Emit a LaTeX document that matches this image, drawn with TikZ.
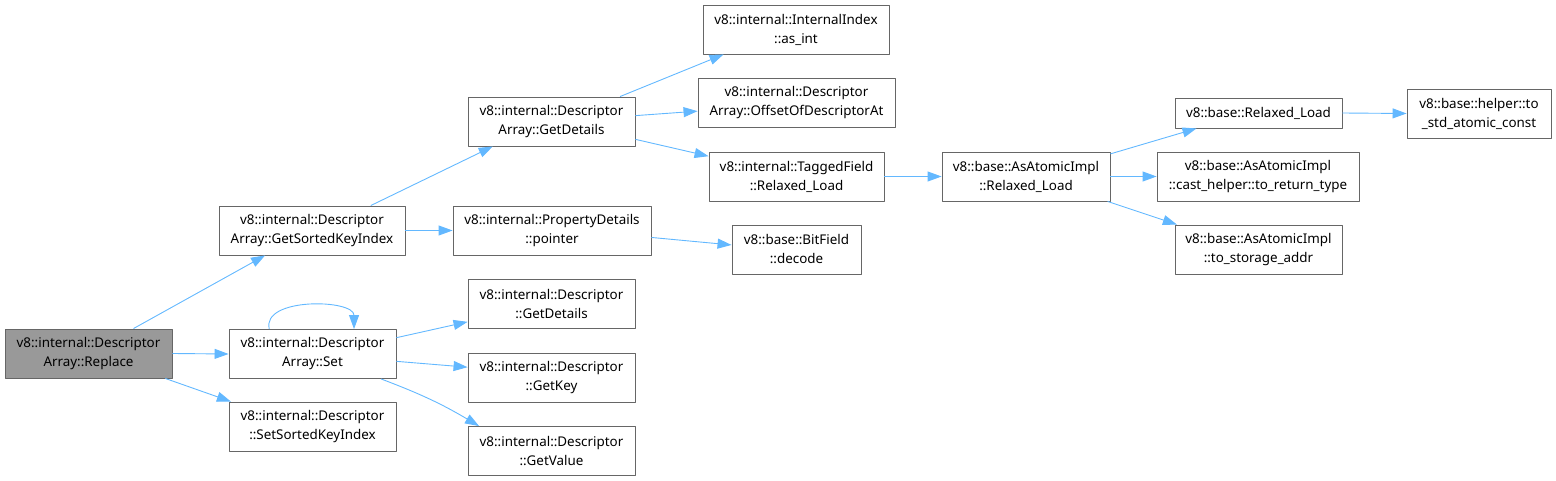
\documentclass[tikz,border=0pt]{standalone}
\usepackage{fontspec}
\setmainfont{Noto Sans}
\usepackage{tikz}
\usetikzlibrary{arrows.meta}
\definecolor{ColEdge}{RGB}{99,184,255}
\definecolor{ColBorder}{RGB}{102,102,102}
\definecolor{ColRoot}{RGB}{153,153,153}

\begin{document}
\begin{tikzpicture}[
  x=1pt, y=-1pt,
  >={Triangle[length=14pt,width=10pt]},
  line join=round,
  fn/.style={draw=ColBorder, line width=0.9pt, fill=white, align=center,
    inner sep=0pt, minimum height=49pt,
    font=\fontsize{13.4}{19}\selectfont},
  fnroot/.style={fn, fill=ColRoot},
  call/.style={->, draw=ColEdge, line width=0.9pt}
]
  \useasboundingbox (0,0) rectangle (1556,481);

  % Functions, placed at the spots of the call graph
  \node[fnroot, minimum width=167pt] (replace)    at (88.5,353.5)  {v8::internal::Descriptor\\Array::Replace};
  \node[fn, minimum width=186pt]     (sortedidx)  at (312,230.5)   {v8::internal::Descriptor\\Array::GetSortedKeyIndex};
  \node[fn, minimum width=167pt]     (set)        at (312.5,354)   {v8::internal::Descriptor\\Array::Set};
  \node[fn, minimum width=167pt]     (setsorted)  at (312.5,426.5) {v8::internal::Descriptor\\::SetSortedKeyIndex};
  \node[fn, minimum width=167pt]     (getdetails) at (551.5,121.5) {v8::internal::Descriptor\\Array::GetDetails};
  \node[fn, minimum width=198pt]     (pointer)    at (552,230.5)   {v8::internal::PropertyDetails\\::pointer};
  \node[fn, minimum width=167pt]     (dgetdet)    at (551.5,304)   {v8::internal::Descriptor\\::GetDetails};
  \node[fn, minimum width=167pt]     (getkey)     at (551.5,377.5) {v8::internal::Descriptor\\::GetKey};
  \node[fn, minimum width=167pt]     (getvalue)   at (551.5,451)   {v8::internal::Descriptor\\::GetValue};
  \node[fn, minimum width=186pt]     (asint)      at (796,29.5)    {v8::internal::InternalIndex\\::as\_int};
  \node[fn, minimum width=197pt]     (offset)     at (796.5,102.5) {v8::internal::Descriptor\\Array::OffsetOfDescriptorAt};
  \node[fn, minimum width=175pt]     (tagged)     at (796.5,176.5) {v8::internal::TaggedField\\::Relaxed\_Load};
  \node[fn, minimum width=129pt]     (decode)     at (796.5,249.5) {v8::base::BitField\\::decode};
  \node[fn, minimum width=168pt]     (asatomic)   at (1026,176.5)  {v8::base::AsAtomicImpl\\::Relaxed\_Load};
  \node[fn, minimum width=167pt, minimum height=30pt]
                                     (baseload)   at (1258.5,113)  {v8::base::Relaxed\_Load};
  \node[fn, minimum width=202pt]     (casthelper) at (1258,176.5)  {v8::base::AsAtomicImpl\\::cast\_helper::to\_return\_type};
  \node[fn, minimum width=167pt]     (storage)    at (1258.5,249.5) {v8::base::AsAtomicImpl\\::to\_storage\_addr};
  \node[fn, minimum width=144pt]     (stdatomic)  at (1479,113.5)  {v8::base::helper::to\\\_std\_atomic\_const};

  % Calls out of Replace
  \draw[call] (replace.29)  -- (sortedidx.208);
  \draw[call] (replace.east) -- (set.west);
  \draw[call] (replace.-18) -- (setsorted.163);

  % Calls out of GetSortedKeyIndex and Set
  \draw[call] (sortedidx.23.6) -- (getdetails.203.4);
  \draw[call] (sortedidx.east) -- (pointer.west);
  \draw[call] (set.150) .. controls +(-8,-32) and +(0,-30) .. (set.31);
  \draw[call] (set.11.5) -- (dgetdet.192.2);
  \draw[call] (set.-5.5) -- (getkey.173.5);
  \draw[call] (set.-20.7) to[bend left=5] (getvalue.161.4);

  % Calls out of GetDetails and pointer
  \draw[call] (getdetails.20.2)  -- (asint.199.8);
  \draw[call] (getdetails.4.5)   -- (offset.185.5);
  \draw[call] (getdetails.-12.5) -- (tagged.167.4);
  \draw[call] (pointer.-4.3)     -- (decode.176);

  % Atomic loads
  \draw[call] (tagged.east)    -- (asatomic.west);
  \draw[call] (asatomic.15.6)  -- (baseload.194.1);
  \draw[call] (asatomic.east)  -- (casthelper.west);
  \draw[call] (asatomic.-17)   -- (storage.163);
  \draw[call] (baseload.east)  -- (stdatomic.west);
\end{tikzpicture}
\end{document}
